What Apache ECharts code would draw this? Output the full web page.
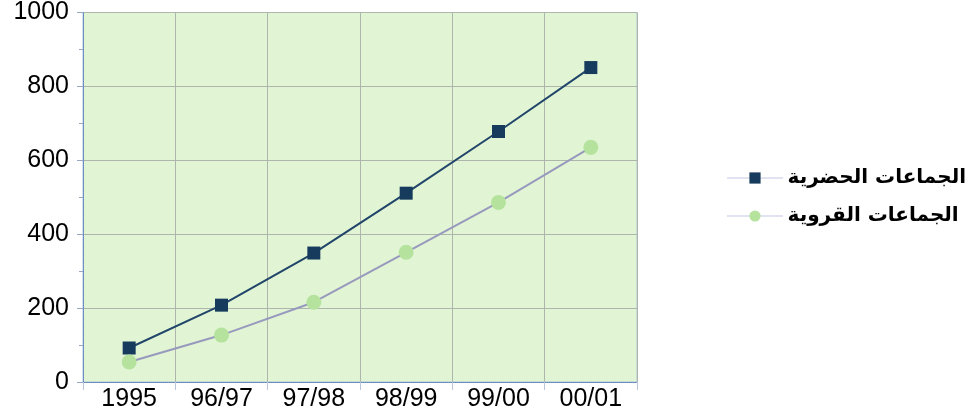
<!DOCTYPE html>
<html>
<head>
<meta charset="utf-8">
<script src="https://cdn.jsdelivr.net/npm/echarts@6/dist/echarts.min.js"></script>
<style>
  html, body { margin: 0; padding: 0; background: #fff; }
  #chart { width: 978px; height: 412px; }
</style>
</head>
<body>
<div id="chart"></div>
<script>
const years = ['1995', '96/97', '97/98', '98/99', '99/00', '00/01'];
const urbanName = 'الجماعات الحضرية';
const ruralName = 'الجماعات القروية';
const urbanValues = [92, 208, 349, 511, 678, 851];
const ruralValues = [54, 127, 216, 351, 486, 635];
const yTicks = [0, 200, 400, 600, 800, 1000];

const chart = echarts.init(document.getElementById('chart'), null, { renderer: 'canvas' });

const option = {
    animation: false,
    backgroundColor: '#ffffff',
    grid: {
        left: 83,
        right: 341,
        top: 12,
        bottom: 30,
        show: true,
        backgroundColor: '#e1f5d5',
        borderColor: '#a9c3dc',
        borderWidth: 1
    },
    legend: {
        orient: 'vertical',
        left: 722,
        top: 163,
        itemWidth: 55,
        itemHeight: 14,
        itemGap: 18,
        data: [urbanName, ruralName],
        textStyle: {
            fontFamily: 'DejaVu Sans',
            fontWeight: 'bold',
            fontSize: 20,
            color: '#000'
        },
        lineStyle: {
            color: '#8a8fc8',
            width: 1,
            type: 'dotted'
        }
    },
    xAxis: {
        type: 'category',
        data: years,
        boundaryGap: true,
        axisLine: { lineStyle: { color: '#5f86c4', width: 1, type: 'dotted' } },
        axisTick: { show: true, alignWithLabel: false, length: 8, lineStyle: { color: '#b9c6dc' } },
        axisLabel: {
            fontFamily: 'Liberation Sans',
            fontSize: 25,
            color: '#000',
            margin: 5,
            interval: 0
        },
        splitLine: { show: true, interval: 0, lineStyle: { color: '#adb5ad', width: 1 } }
    },
    yAxis: {
        type: 'value',
        min: yTicks[0],
        max: yTicks[yTicks.length - 1],
        interval: 200,
        axisLine: { show: true, lineStyle: { color: '#5f86c4', width: 1, type: 'dotted' } },
        axisTick: { show: true, length: 6, lineStyle: { color: '#9aa7c4' } },
        minorTick: { show: true, splitNumber: 2, length: 4, lineStyle: { color: '#9aa7c4' } },
        axisLabel: {
            fontFamily: 'Liberation Sans',
            fontSize: 25,
            color: '#000',
            margin: 14,
            formatter: function (v) { return String(v); }
        },
        splitLine: { show: true, lineStyle: { color: '#adb5ad', width: 1 } }
    },
    series: [
        {
            name: urbanName,
            type: 'line',
            data: urbanValues,
            symbol: 'rect',
            symbolSize: 13,
            itemStyle: { color: '#173b5c' },
            lineStyle: { color: '#22456a', width: 2 }
        },
        {
            name: ruralName,
            type: 'line',
            data: ruralValues,
            symbol: 'circle',
            symbolSize: 15,
            itemStyle: { color: '#b5e39e' },
            lineStyle: { color: '#9799bd', width: 2 }
        }
    ]
};

chart.setOption(option);
</script>
</body>
</html>
